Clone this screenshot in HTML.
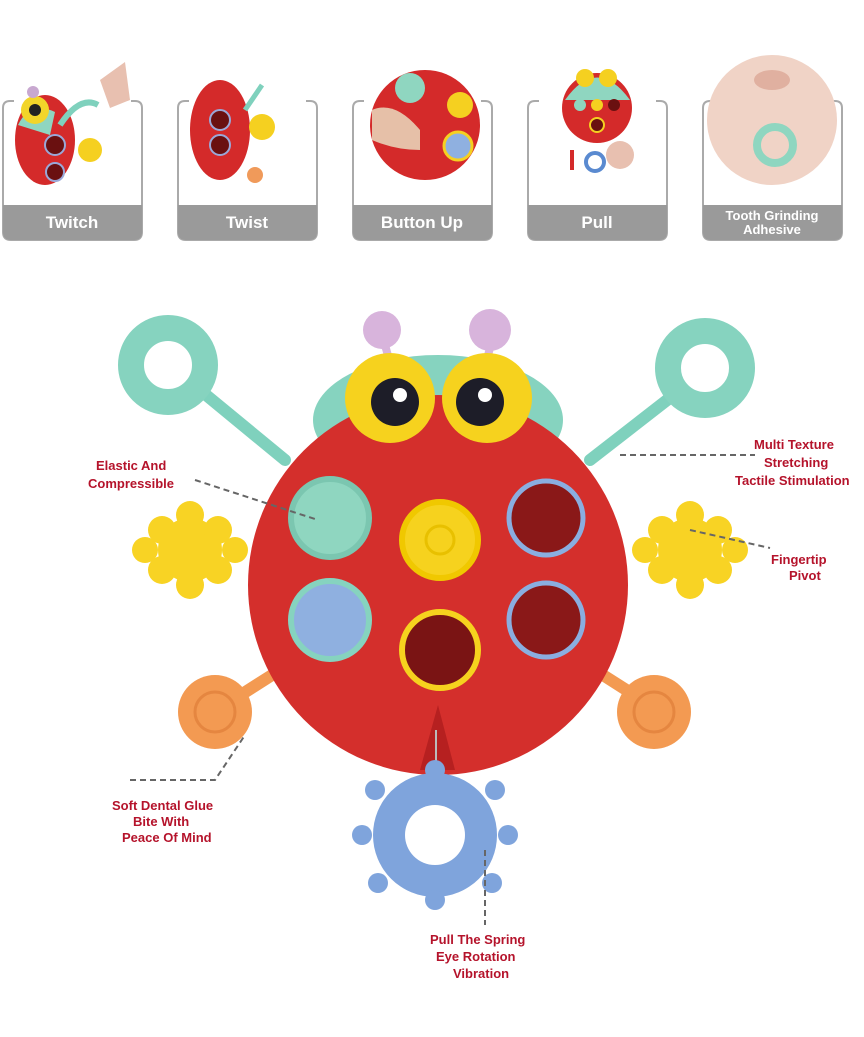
<!DOCTYPE html>
<html><head><style>
body{margin:0;background:#fff;}
svg{display:block}
.l{font-family:"Liberation Sans",sans-serif;font-weight:bold;font-size:13px;fill:#b5132b;}
.t{font-family:"Liberation Sans",sans-serif;font-weight:bold;font-size:17px;fill:#fff;text-anchor:middle}
</style></head><body>
<svg width="864" height="1037" viewBox="0 0 864 1037" xmlns="http://www.w3.org/2000/svg">
<rect width="864" height="1037" fill="#fff"/>
<defs>
<g id="b">
<path d="M14 101 L10 101 Q3 101 3 108 L3 232 Q3 240 11 240 L134 240 Q142 240 142 232 L142 108 Q142 101 135 101 L131 101" fill="none" stroke="#aaa" stroke-width="2"/>
<path d="M3 205 L142 205 L142 232 Q142 240 134 240 L11 240 Q3 240 3 232 Z" fill="#9a9a9a"/></g>
</defs>
<use href="#b"/><use href="#b" x="175"/><use href="#b" x="350"/><use href="#b" x="525"/><use href="#b" x="700"/>
<!-- thumbnails -->
<ellipse cx="45" cy="140" rx="30" ry="45" fill="#d42a2a"/><path d="M18 125 Q30 100 55 112 L50 135 Z" fill="#8fd6c0"/><circle cx="35" cy="110" r="14" fill="#f2d52a"/><circle cx="35" cy="110" r="6" fill="#222"/><circle cx="33" cy="92" r="6" fill="#c8a8d0"/>
<circle cx="55" cy="145" r="10" fill="#6a1010" stroke="#9aa8d8" stroke-width="2"/><circle cx="55" cy="172" r="9" fill="#6a1010" stroke="#9aa8d8" stroke-width="2"/><circle cx="90" cy="150" r="12" fill="#f5d020"/>
<path d="M60 125 Q80 95 98 105" stroke="#7fd1bd" stroke-width="6" fill="none"/><path d="M100 80 L125 62 L130 100 L110 108 Z" fill="#e8c0b0"/>
<ellipse cx="220" cy="130" rx="30" ry="50" fill="#d42a2a"/><circle cx="220" cy="120" r="10" fill="#6a1010" stroke="#9aa8d8" stroke-width="2"/><circle cx="220" cy="145" r="10" fill="#6a1010" stroke="#9aa8d8" stroke-width="2"/>
<circle cx="262" cy="127" r="13" fill="#f5d020"/><path d="M245 110 L262 85" stroke="#7fd1bd" stroke-width="5"/><circle cx="255" cy="175" r="8" fill="#f09a5a"/>
<circle cx="425" cy="125" r="55" fill="#d42a2a"/><circle cx="410" cy="88" r="15" fill="#8fd6c0"/><circle cx="460" cy="105" r="13" fill="#f5d020"/><circle cx="458" cy="146" r="14" fill="#8fb0e0" stroke="#f5d020" stroke-width="3"/>
<path d="M372 110 Q395 100 420 130 L420 150 Q395 150 372 140 Z" fill="#e6c0a8"/>
<circle cx="597" cy="108" r="35" fill="#d42a2a"/><path d="M565 100 Q597 55 630 100 Z" fill="#8fd6c0"/><circle cx="585" cy="78" r="9" fill="#f5d020"/><circle cx="608" cy="78" r="9" fill="#f5d020"/>
<circle cx="597" cy="105" r="6" fill="#f5d020"/><circle cx="580" cy="105" r="6" fill="#8fd6c0"/><circle cx="614" cy="105" r="6" fill="#6a1010"/><circle cx="597" cy="125" r="7" fill="#6a1010" stroke="#f5d020" stroke-width="2"/>
<circle cx="595" cy="162" r="9" fill="none" stroke="#5a8ad0" stroke-width="4"/><path d="M572 150 L572 170" stroke="#d42a2a" stroke-width="4"/><circle cx="620" cy="155" r="14" fill="#e8c0b0"/>
<circle cx="772" cy="120" r="65" fill="#f0d3c6"/><circle cx="775" cy="145" r="18" fill="none" stroke="#8fd6c0" stroke-width="8"/><ellipse cx="772" cy="80" rx="18" ry="10" fill="#e0b0a0"/>
<text class="t" x="72" y="228">Twitch</text>
<text class="t" x="247" y="228">Twist</text>
<text class="t" x="422" y="228">Button Up</text>
<text class="t" x="597" y="228">Pull</text>
<text class="t" x="772" y="220" style="font-size:13px">Tooth Grinding</text>
<text class="t" x="772" y="234" style="font-size:13px">Adhesive</text>
<!-- main toy -->
<g stroke="#7fd1bd" stroke-width="12" stroke-linecap="round"><path d="M200 390 L285 460"/><path d="M680 390 L590 460"/></g>
<g fill="none" stroke="#86d3bf" stroke-width="26"><circle cx="168" cy="365" r="37"/><circle cx="705" cy="368" r="37"/></g>
<g stroke="#f39a52" stroke-width="12"><path d="M225 705 L280 670"/><path d="M650 705 L595 670"/></g>
<circle cx="215" cy="712" r="37" fill="#f39a52"/><circle cx="215" cy="712" r="20" fill="none" stroke="#e58640" stroke-width="3"/>
<circle cx="654" cy="712" r="37" fill="#f39a52"/><circle cx="654" cy="712" r="20" fill="none" stroke="#e58640" stroke-width="3"/>
<g fill="#f8d324">
<circle cx="190" cy="550" r="32"/><circle cx="162" cy="530" r="14"/><circle cx="190" cy="515" r="14"/><circle cx="218" cy="530" r="14"/><circle cx="162" cy="570" r="14"/><circle cx="190" cy="585" r="14"/><circle cx="218" cy="570" r="14"/><circle cx="145" cy="550" r="13"/><circle cx="235" cy="550" r="13"/>
<circle cx="690" cy="550" r="32"/><circle cx="662" cy="530" r="14"/><circle cx="690" cy="515" r="14"/><circle cx="718" cy="530" r="14"/><circle cx="662" cy="570" r="14"/><circle cx="690" cy="585" r="14"/><circle cx="718" cy="570" r="14"/><circle cx="645" cy="550" r="13"/><circle cx="735" cy="550" r="13"/>
</g>
<circle cx="382" cy="330" r="19" fill="#d8b4dc"/><circle cx="490" cy="330" r="21" fill="#d8b4dc"/>
<path d="M385 345 L392 370 M490 348 L484 370" stroke="#d8b4dc" stroke-width="8"/>
<ellipse cx="438" cy="420" rx="125" ry="65" fill="#86d3bf"/>
<circle cx="438" cy="585" r="190" fill="#d42f2c"/>
<circle cx="390" cy="398" r="45" fill="#f6d21e"/><circle cx="395" cy="402" r="24" fill="#1d1d28"/><circle cx="400" cy="395" r="7" fill="#fff"/>
<circle cx="487" cy="398" r="45" fill="#f6d21e"/><circle cx="480" cy="402" r="24" fill="#1d1d28"/><circle cx="485" cy="395" r="7" fill="#fff"/>
<circle cx="330" cy="518" r="39" fill="#8fd6c0" stroke="#7bc6b0" stroke-width="6"/>
<circle cx="440" cy="540" r="38" fill="#f6d21e" stroke="#f0c800" stroke-width="6"/><circle cx="440" cy="540" r="14" fill="none" stroke="#e8c000" stroke-width="3"/>
<circle cx="546" cy="518" r="37" fill="#8a1818" stroke="#8aaee0" stroke-width="5"/>
<circle cx="330" cy="620" r="39" fill="#8fb0e0" stroke="#86d3bf" stroke-width="6"/>
<circle cx="440" cy="650" r="38" fill="#7a1414" stroke="#f6d21e" stroke-width="6"/>
<circle cx="546" cy="620" r="37" fill="#8a1818" stroke="#8aaee0" stroke-width="5"/>
<path d="M420 770 L438 705 L455 770 Z" fill="#b62020"/>
<line x1="436" y1="730" x2="436" y2="790" stroke="#bbb" stroke-width="2"/>
<g fill="#7fa4dc"><circle cx="435" cy="835" r="62"/>
<circle cx="375" cy="790" r="10"/><circle cx="495" cy="790" r="10"/><circle cx="362" cy="835" r="10"/><circle cx="508" cy="835" r="10"/><circle cx="378" cy="883" r="10"/><circle cx="492" cy="883" r="10"/><circle cx="435" cy="770" r="10"/><circle cx="435" cy="900" r="10"/></g>
<circle cx="435" cy="835" r="30" fill="#fff"/>
<!-- dashed leaders -->
<g stroke="#666" stroke-width="2" stroke-dasharray="6,4" fill="none">
<path d="M195 480 L318 520"/><path d="M620 455 L755 455"/><path d="M690 530 L770 548"/>
<path d="M130 780 L215 780 L245 735"/><path d="M485 850 L485 925"/>
</g>
<text class="l" x="96" y="470">Elastic And</text><text class="l" x="88" y="488">Compressible</text>
<text class="l" x="754" y="449">Multi Texture</text><text class="l" x="764" y="467">Stretching</text><text class="l" x="735" y="485">Tactile Stimulation</text>
<text class="l" x="771" y="564">Fingertip</text><text class="l" x="789" y="580">Pivot</text>
<text class="l" x="112" y="810">Soft Dental Glue</text><text class="l" x="133" y="826">Bite With</text><text class="l" x="122" y="842">Peace Of Mind</text>
<text class="l" x="430" y="944">Pull The Spring</text><text class="l" x="436" y="961">Eye Rotation</text><text class="l" x="453" y="978">Vibration</text>
</svg>
</body></html>
